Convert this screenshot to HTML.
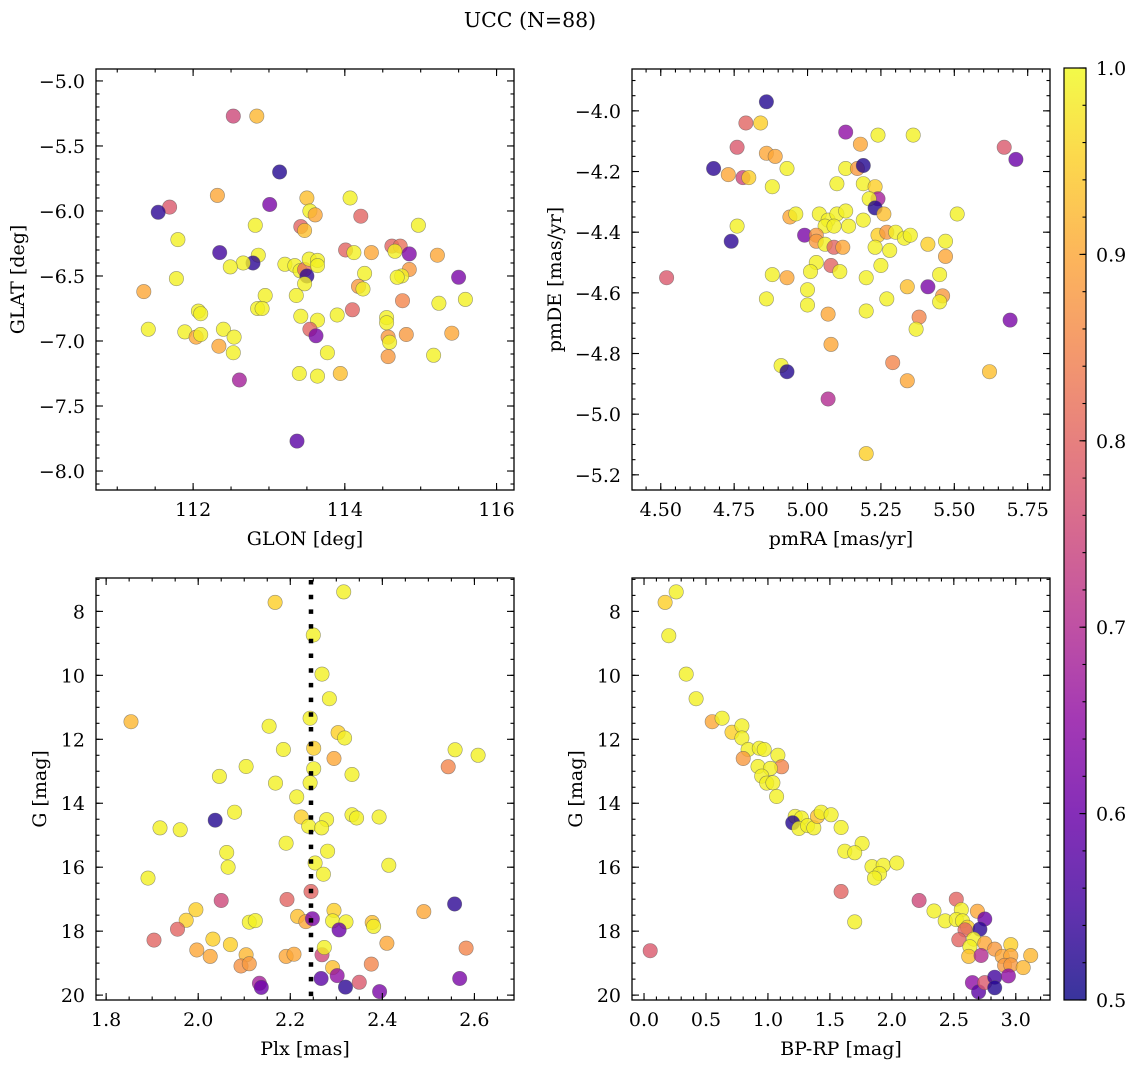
<!DOCTYPE html>
<html><head><meta charset="utf-8">
<style>
html,body{margin:0;padding:0;background:#fff;}
svg{display:block;font-family:"DejaVu Serif","Liberation Serif",serif;}
</style></head>
<body>
<svg id="fig" width="1136" height="1067" viewBox="0 0 1136 1067" xmlns="http://www.w3.org/2000/svg">
<text x="530" y="27" text-anchor="middle" font-size="20.5">UCC (N=88)</text>
</svg>
<script>
// ---- data (c = membership probability) ----
const glonVals=[112.53,112.84,113.14,112.32,111.69,111.54,113.01,113.50,114.07,113.54,113.61,114.21,112.82,113.42,113.47,114.97,111.80,112.35,112.86,112.79,112.66,112.49,113.21,113.34,113.41,113.47,113.53,113.64,113.64,113.50,113.47,113.36,114.01,114.12,114.35,114.62,114.73,114.66,114.85,115.22,115.50,114.85,114.75,114.69,114.26,114.18,114.24,111.78,111.35,112.95,112.85,112.91,112.07,112.10,111.41,111.89,112.04,112.10,112.40,112.54,112.34,112.53,113.42,113.64,113.90,114.10,113.54,113.62,113.77,114.76,114.55,114.55,114.57,114.59,114.81,114.57,115.17,115.41,115.24,115.59,113.40,113.64,113.94,112.61,113.37];
const glatVals=[-5.27,-5.27,-5.70,-5.88,-5.97,-6.01,-5.95,-5.90,-5.90,-6.00,-6.03,-6.04,-6.11,-6.12,-6.15,-6.11,-6.22,-6.32,-6.34,-6.40,-6.40,-6.43,-6.41,-6.42,-6.46,-6.45,-6.37,-6.38,-6.42,-6.50,-6.56,-6.65,-6.30,-6.32,-6.32,-6.27,-6.27,-6.31,-6.33,-6.34,-6.51,-6.45,-6.50,-6.51,-6.48,-6.58,-6.60,-6.52,-6.62,-6.65,-6.75,-6.75,-6.77,-6.79,-6.91,-6.93,-6.97,-6.95,-6.91,-6.97,-7.04,-7.09,-6.81,-6.84,-6.80,-6.76,-6.91,-6.96,-7.09,-6.69,-6.82,-6.86,-6.97,-7.01,-6.95,-7.12,-7.11,-6.94,-6.71,-6.68,-7.25,-7.27,-7.25,-7.30,-7.77];
const probA=[0.75,0.92,0.52,0.9,0.78,0.53,0.62,0.93,0.99,0.99,0.9,0.8,0.99,0.8,0.93,0.99,0.99,0.55,0.99,0.53,0.99,0.99,0.99,0.99,0.99,0.82,0.99,0.99,0.99,0.53,0.99,0.99,0.8,0.99,0.9,0.8,0.82,0.99,0.63,0.9,0.62,0.88,0.99,0.99,0.99,0.88,0.99,0.99,0.9,0.99,0.99,0.99,0.99,0.99,0.99,0.99,0.9,0.99,0.99,0.99,0.9,0.99,0.99,0.99,0.99,0.8,0.8,0.62,0.99,0.85,0.99,0.99,0.88,0.99,0.88,0.88,0.99,0.9,0.99,0.99,0.99,0.99,0.93,0.68,0.58];

const pmraVals=[4.86,4.79,4.84,5.13,5.24,5.36,5.18,4.76,4.86,4.89,4.68,4.73,4.78,4.80,4.93,5.13,5.17,5.19,4.88,5.10,5.19,5.23,5.24,5.21,5.23,5.26,5.67,5.71,5.51,4.94,4.96,5.04,5.07,5.10,5.13,5.06,5.09,5.14,5.19,4.76,4.74,4.99,5.03,5.03,5.06,5.09,5.12,5.24,5.27,5.30,5.33,5.35,5.23,5.28,5.41,5.47,5.47,5.03,5.01,5.08,5.11,5.25,5.20,4.88,4.93,4.52,5.45,5.41,5.34,5.00,4.86,5.00,5.27,5.46,5.45,5.07,5.20,5.38,5.37,5.69,5.08,4.91,4.93,5.29,5.34,5.62,5.07,5.20];
const pmdeVals=[-3.97,-4.04,-4.04,-4.07,-4.08,-4.08,-4.11,-4.12,-4.14,-4.15,-4.19,-4.21,-4.22,-4.22,-4.19,-4.19,-4.19,-4.18,-4.25,-4.24,-4.24,-4.25,-4.29,-4.29,-4.32,-4.34,-4.12,-4.16,-4.34,-4.35,-4.34,-4.34,-4.36,-4.34,-4.33,-4.38,-4.38,-4.38,-4.36,-4.38,-4.43,-4.41,-4.41,-4.43,-4.44,-4.45,-4.45,-4.41,-4.40,-4.40,-4.42,-4.41,-4.45,-4.46,-4.44,-4.43,-4.48,-4.50,-4.53,-4.51,-4.53,-4.51,-4.55,-4.54,-4.55,-4.55,-4.54,-4.58,-4.58,-4.59,-4.62,-4.64,-4.62,-4.61,-4.63,-4.67,-4.66,-4.68,-4.72,-4.69,-4.77,-4.84,-4.86,-4.83,-4.89,-4.86,-4.95,-5.13];
const probB=[0.52,0.8,0.95,0.65,0.99,0.99,0.9,0.78,0.9,0.9,0.53,0.9,0.75,0.95,0.99,0.99,0.88,0.52,0.99,0.99,0.99,0.95,0.68,0.99,0.52,0.93,0.78,0.6,0.99,0.9,0.99,0.99,0.99,0.99,0.99,0.99,0.99,0.99,0.99,0.99,0.53,0.62,0.88,0.88,0.99,0.8,0.9,0.95,0.88,0.99,0.99,0.99,0.99,0.99,0.95,0.99,0.9,0.99,0.99,0.8,0.99,0.99,0.99,0.99,0.9,0.78,0.99,0.62,0.93,0.99,0.99,0.99,0.99,0.88,0.99,0.9,0.99,0.85,0.99,0.62,0.9,0.99,0.52,0.85,0.9,0.93,0.7,0.95];

const plxVals=[2.316,2.167,2.250,2.269,2.285,1.854,2.243,2.154,2.304,2.318,2.185,2.251,2.558,2.608,2.295,2.543,2.104,2.251,2.046,2.334,2.168,2.243,2.214,2.079,2.037,2.224,2.279,2.334,2.344,2.393,2.240,2.268,1.917,1.961,2.191,2.062,2.281,2.065,2.254,2.272,2.414,1.891,2.245,2.050,2.193,2.557,1.995,2.295,2.490,1.974,1.955,2.111,2.124,2.216,2.234,2.248,2.292,2.321,2.306,2.378,2.381,1.904,2.032,2.070,2.410,2.582,1.997,2.026,2.104,2.093,2.111,2.191,2.208,2.269,2.274,2.292,2.376,2.133,2.137,2.267,2.302,2.320,2.350,2.394,2.568];
const gmagC=[7.39,7.72,8.74,9.96,10.73,11.45,11.34,11.59,11.79,11.96,12.32,12.28,12.33,12.50,12.60,12.86,12.85,12.92,13.16,13.10,13.37,13.36,13.80,14.28,14.53,14.43,14.51,14.36,14.46,14.43,14.72,14.77,14.77,14.83,15.25,15.54,15.50,16.00,15.87,16.22,15.94,16.34,16.76,17.04,17.01,17.15,17.33,17.35,17.39,17.66,17.94,17.72,17.67,17.54,17.70,17.61,17.68,17.71,17.96,17.73,17.85,18.28,18.25,18.42,18.38,18.53,18.59,18.79,18.74,19.09,19.02,18.79,18.72,18.74,18.51,19.14,19.03,19.63,19.76,19.48,19.39,19.75,19.60,19.89,19.48];
const probC=[0.99,0.95,0.99,0.99,0.99,0.92,0.99,0.99,0.95,0.99,0.99,0.95,0.99,0.99,0.9,0.85,0.99,0.99,0.99,0.99,0.99,0.99,0.99,0.99,0.52,0.95,0.99,0.99,0.99,0.99,0.99,0.99,0.99,0.99,0.99,0.99,0.99,0.99,0.99,0.99,0.99,0.99,0.8,0.75,0.8,0.53,0.95,0.95,0.9,0.95,0.8,0.99,0.99,0.93,0.9,0.62,0.99,0.99,0.6,0.93,0.99,0.8,0.95,0.95,0.9,0.85,0.9,0.9,0.92,0.87,0.88,0.9,0.9,0.75,0.99,0.93,0.85,0.68,0.6,0.58,0.65,0.53,0.78,0.62,0.62];

const bprpVals=[0.26,0.17,0.20,0.34,0.42,0.55,0.63,0.71,0.79,0.79,0.84,0.93,0.97,1.08,0.80,0.92,1.11,1.02,0.95,0.99,1.04,1.07,1.22,1.27,1.20,1.25,1.32,1.37,1.40,1.43,1.51,1.59,1.76,1.62,1.70,1.84,1.93,2.04,1.90,1.86,1.59,1.70,0.05,2.22,2.52,2.34,2.43,2.56,2.69,2.52,2.57,2.61,2.59,2.75,2.71,2.54,2.66,2.63,2.75,2.83,2.96,2.62,2.72,2.89,2.96,3.12,2.91,2.96,3.06,2.65,2.70,2.75,2.83,2.83,2.94];
const gmagD=[7.39,7.72,8.76,9.96,10.73,11.45,11.34,11.78,11.58,11.96,12.32,12.28,12.32,12.50,12.60,12.85,12.86,12.91,13.15,13.37,13.36,13.79,14.41,14.46,14.61,14.79,14.70,14.77,14.41,14.28,14.36,14.76,15.26,15.50,15.55,15.98,15.94,15.87,16.20,16.34,16.76,17.71,18.61,17.04,17.00,17.37,17.68,17.33,17.38,17.64,17.68,17.88,17.96,17.62,17.94,18.27,18.25,18.49,18.38,18.56,18.42,18.79,18.76,18.79,18.77,18.76,19.07,19.06,19.14,19.61,19.90,19.61,19.44,19.77,19.40];
const probD=[0.99,0.95,0.99,0.99,0.99,0.9,0.99,0.95,0.99,0.99,0.99,0.99,0.99,0.99,0.88,0.99,0.85,0.99,0.99,0.99,0.99,0.99,0.99,0.99,0.52,0.99,0.99,0.99,0.93,0.99,0.99,0.99,0.99,0.99,0.99,0.99,0.99,0.99,0.99,0.99,0.8,0.99,0.78,0.75,0.8,0.99,0.99,0.99,0.9,0.99,0.99,0.95,0.8,0.6,0.53,0.8,0.99,0.99,0.9,0.88,0.95,0.93,0.7,0.9,0.9,0.92,0.88,0.88,0.92,0.65,0.58,0.78,0.55,0.52,0.65];

const plxLine=2.245;
// tick label arrays
const ticksGlon=[112,114,116];
const ticksGlat=[-5.0,-5.5,-6.0,-6.5,-7.0,-7.5,-8.0];
const ticksPmra=[4.50,4.75,5.00,5.25,5.50,5.75];
const ticksPmde=[-4.0,-4.2,-4.4,-4.6,-4.8,-5.0,-5.2];
const ticksPlx=[1.8,2.0,2.2,2.4,2.6];
const ticksG=[8,10,12,14,16,18,20];
const ticksBprp=[0.0,0.5,1.0,1.5,2.0,2.5,3.0];
const ticksCbar=[0.5,0.6,0.7,0.8,0.9,1.0];

const FS=19;
const NS='http://www.w3.org/2000/svg';
const svg=document.getElementById('fig');
function el(tag,attrs,parent){const e=document.createElementNS(NS,tag);for(const k in attrs)e.setAttribute(k,attrs[k]);(parent||svg).appendChild(e);return e;}

const stops=['#0d0887','#41049d','#6a00a8','#8f0da4','#b12a90','#cc4778','#e16462','#f2844b','#fca636','#fcce25','#f0f921'];
function hex(h){return [parseInt(h.substr(1,2),16),parseInt(h.substr(3,2),16),parseInt(h.substr(5,2),16)];}
function plasma(t){t=Math.max(0,Math.min(1,t));const f=t*10,i=Math.min(9,Math.floor(f)),u=f-i;const a=hex(stops[i]),b=hex(stops[i+1]);return 'rgb('+a.map((v,k)=>Math.round(v+(b[k]-v)*u)).join(',')+')';}
function cnorm(c){return (c-0.5)/0.5;}
function fmt(v,d){return (v<0?'\u2212':'')+Math.abs(v).toFixed(d);}

function panel(o){
  const g=el('g',{});
  
  
  const sx=v=>o.x0+(v-o.xd[0])/(o.xd[1]-o.xd[0])*(o.x1-o.x0);
  const sy=o.yinv?(v=>o.y0+(v-o.yd[0])/(o.yd[1]-o.yd[0])*(o.y1-o.y0)):(v=>o.y1-(v-o.yd[0])/(o.yd[1]-o.yd[0])*(o.y1-o.y0));
  const pg=el('g',{},g);
  
  
  for(let i=0;i<o.xs.length;i++){
    const c=el('circle',{cx:sx(o.xs[i]).toFixed(1),cy:sy(o.ys[i]).toFixed(1),r:7.2,fill:plasma(cnorm(o.cs[i])),'fill-opacity':0.8,stroke:'#555','stroke-opacity':0.6,'stroke-width':0.6},pg);
    
    
  }
  if(o.vline!==undefined){
    const l=el('line',{x1:sx(o.vline),x2:sx(o.vline),y1:o.y0+2,y2:o.y1,stroke:'#000','stroke-width':4.5,'stroke-dasharray':'4.5 10.2'},g);
    
    
  }
  const fr=el('rect',{x:o.x0,y:o.y0,width:o.x1-o.x0,height:o.y1-o.y0,fill:'none',stroke:'#000','stroke-width':1.3},g);
  
  
  const tk=el('g',{stroke:'#000','stroke-width':1.1},g);
  
  
  const eps=1e-6;
  function xt(v,len){const X=sx(v);if(X<o.x0-0.5||X>o.x1+0.5)return;el('line',{x1:X,x2:X,y1:o.y1,y2:o.y1-len},tk);el('line',{x1:X,x2:X,y1:o.y0,y2:o.y0+len},tk);}
  function yt(v,len){const Y=sy(v);if(Y<o.y0-0.5||Y>o.y1+0.5)return;el('line',{x1:o.x0,x2:o.x0+len,y1:Y,y2:Y},tk);el('line',{x1:o.x1,x2:o.x1-len,y1:Y,y2:Y},tk);}
  const xlo=Math.min(...o.xd),xhi=Math.max(...o.xd),ylo=Math.min(...o.yd),yhi=Math.max(...o.yd);
  for(let v=Math.ceil(xlo/o.xmin-eps)*o.xmin;v<=xhi+eps;v+=o.xmin)xt(v,3.5);
  for(let v=Math.ceil(ylo/o.ymin-eps)*o.ymin;v<=yhi+eps;v+=o.ymin)yt(v,3.5);
  o.xt.forEach(v=>xt(v,7));o.yt.forEach(v=>yt(v,7));
  o.xt.forEach(v=>{const t=el('text',{x:sx(v),y:o.y1+26,'text-anchor':'middle','font-size':FS},g);t.textContent=fmt(v,o.xdec);
    
    });
  o.yt.forEach(v=>{const t=el('text',{x:o.x0-11,y:sy(v)+7,'text-anchor':'end','font-size':FS},g);t.textContent=fmt(v,o.ydec);
    
    });
  const xl=el('text',{x:(o.x0+o.x1)/2,y:o.y1+55,'text-anchor':'middle','font-size':FS},g);xl.textContent=o.xlabel;
  
  
  const yx=o.ylabx,yy=(o.y0+o.y1)/2;
  const yl=el('text',{x:yx,y:yy,'text-anchor':'middle','font-size':FS,transform:'rotate(-90 '+yx+' '+yy+')'},g);yl.textContent=o.ylabel;
  
  
}

panel({name:'panel-glon-glat',x0:96,x1:514,y0:69,y1:490,xd:[110.72,116.23],yd:[-8.146,-4.908],xs:glonVals,ys:glatVals,cs:probA,xt:ticksGlon,yt:ticksGlat,xmin:0.5,ymin:0.1,xdec:0,ydec:1,xlabel:'GLON [deg]',ylabel:'GLAT [deg]',ylabx:24});
panel({name:'panel-pmra-pmde',x0:632,x1:1050,y0:69,y1:490,xd:[4.402,5.826],yd:[-5.250,-3.862],xs:pmraVals,ys:pmdeVals,cs:probB,xt:ticksPmra,yt:ticksPmde,xmin:0.05,ymin:0.05,xdec:2,ydec:1,xlabel:'pmRA [mas/yr]',ylabel:'pmDE [mas/yr]',ylabx:561});
panel({name:'panel-plx-g',x0:96,x1:514,y0:578,y1:1000,xd:[1.778,2.686],yd:[6.956,20.153],yinv:true,xs:plxVals,ys:gmagC,cs:probC,xt:ticksPlx,yt:ticksG,xmin:0.05,ymin:0.5,xdec:1,ydec:0,xlabel:'Plx [mas]',ylabel:'G [mag]',ylabx:46,vline:plxLine});
panel({name:'panel-bprp-g',x0:632,x1:1050,y0:578,y1:1000,xd:[-0.097,3.276],yd:[6.956,20.153],yinv:true,xs:bprpVals,ys:gmagD,cs:probD,xt:ticksBprp,yt:ticksG,xmin:0.1,ymin:0.5,xdec:1,ydec:0,xlabel:'BP-RP [mag]',ylabel:'G [mag]',ylabx:582});

(function(){
  const g=el('g',{});
  
  
  const cx0=1064,cx1=1086,cy0=68,cy1=1000;
  const defs=el('defs',{},g);
  const lg=el('linearGradient',{id:'cbg',x1:0,y1:1,x2:0,y2:0},defs);
  for(let i=0;i<=20;i++){el('stop',{offset:(i/20),'stop-color':plasma(i/20),'stop-opacity':0.82},lg);}
  el('rect',{x:cx0,y:cy0,width:cx1-cx0,height:cy1-cy0,fill:'url(#cbg)',stroke:'#000','stroke-width':1.2},g);
  const sy=v=>cy1-(v-0.5)/0.5*(cy1-cy0);
  for(let v=0.5;v<=1.0001;v+=0.02){el('line',{x1:cx1,x2:cx1-3.5,y1:sy(v),y2:sy(v),stroke:'#000','stroke-width':1.1},g);}
  ticksCbar.forEach(v=>{el('line',{x1:cx1,x2:cx1-6.5,y1:sy(v),y2:sy(v),stroke:'#000','stroke-width':1.1},g);
    const t=el('text',{x:cx1+10,y:sy(v)+7,'font-size':FS},g);t.textContent=v.toFixed(1);
    
    });
})();
</script>
</body></html>
